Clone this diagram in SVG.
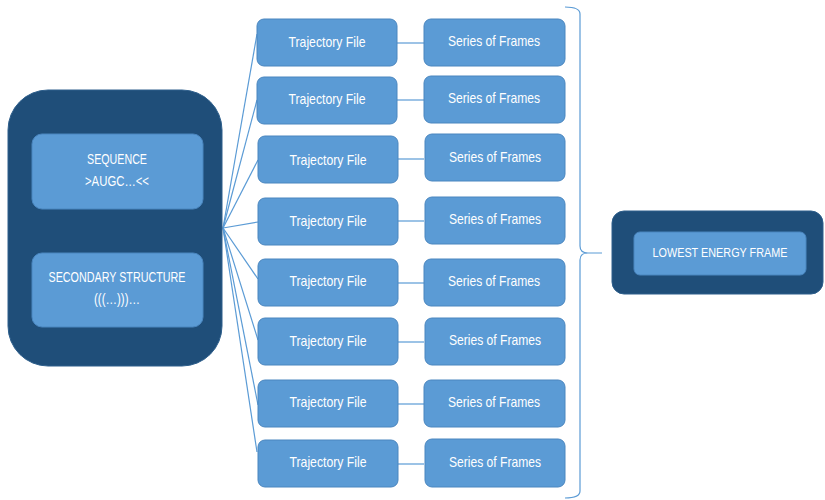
<svg xmlns="http://www.w3.org/2000/svg" width="825" height="500" viewBox="0 0 825 500">
<style>
.outer{fill:#1F4E79;stroke:#2E5F8C;stroke-width:1}
.box{fill:#5B9BD5;stroke:#4A86BF;stroke-width:1}
.t{fill:#FFFFFF;font-family:"Liberation Sans",Arial,sans-serif;font-size:15px;text-anchor:middle;dominant-baseline:central}
.c{stroke:#5B9BD5;stroke-width:1.2;fill:none}
</style>
<rect x="0" y="0" width="825" height="500" fill="#FFFFFF"/>
<g id="connectors">
<line class="c" x1="223" y1="228" x2="257" y2="34"/>
<line class="c" x1="223" y1="228" x2="257" y2="100"/>
<line class="c" x1="223" y1="228" x2="258" y2="160"/>
<line class="c" x1="223" y1="228" x2="258" y2="222"/>
<line class="c" x1="223" y1="228" x2="258" y2="279"/>
<line class="c" x1="223" y1="228" x2="258" y2="340"/>
<line class="c" x1="223" y1="228" x2="258" y2="405"/>
<line class="c" x1="223" y1="228" x2="257" y2="452"/>
<line class="c" x1="397" y1="43" x2="424" y2="43"/>
<line class="c" x1="397" y1="100" x2="424" y2="100"/>
<line class="c" x1="397" y1="159" x2="424" y2="159"/>
<line class="c" x1="397" y1="221" x2="424" y2="221"/>
<line class="c" x1="397" y1="283" x2="424" y2="283"/>
<line class="c" x1="397" y1="342" x2="424" y2="342"/>
<line class="c" x1="397" y1="404" x2="424" y2="404"/>
<line class="c" x1="397" y1="464" x2="424" y2="464"/>
<path class="c" stroke-width="1.6" d="M565 7 Q580 7 580 14 L580 246 Q580 253 588 253 L602 253 M588 253 Q580 253 580 260 L580 491 Q580 498 565 498"/>
</g>
<g id="input">
<rect class="outer" x="8" y="90" width="214" height="276" rx="40" ry="40"/>
</g>
<g id="sequence">
<rect class="box" x="32" y="134" width="171" height="75" rx="10"/>
<text class="t" x="117" y="158" textLength="60" lengthAdjust="spacingAndGlyphs">SEQUENCE</text>
<text class="t" x="117" y="180" textLength="64" lengthAdjust="spacingAndGlyphs">&gt;AUGC…&lt;&lt;</text>
</g>
<g id="secondary">
<rect class="box" x="32" y="253" width="171" height="74" rx="10"/>
<text class="t" x="117" y="276" textLength="137" lengthAdjust="spacingAndGlyphs">SECONDARY STRUCTURE</text>
<text class="t" x="117" y="298" textLength="46" lengthAdjust="spacingAndGlyphs">(((…)))…</text>
</g>
<g id="traj1"><rect class="box" x="257" y="19" width="140" height="47" rx="7"/><text class="t" x="327" y="41" textLength="77" lengthAdjust="spacingAndGlyphs">Trajectory File</text></g>
<g id="traj2"><rect class="box" x="257" y="77" width="140" height="47" rx="7"/><text class="t" x="327" y="98" textLength="77" lengthAdjust="spacingAndGlyphs">Trajectory File</text></g>
<g id="traj3"><rect class="box" x="258" y="136" width="140" height="47" rx="7"/><text class="t" x="328" y="159" textLength="77" lengthAdjust="spacingAndGlyphs">Trajectory File</text></g>
<g id="traj4"><rect class="box" x="258" y="198" width="140" height="47" rx="7"/><text class="t" x="328" y="220" textLength="77" lengthAdjust="spacingAndGlyphs">Trajectory File</text></g>
<g id="traj5"><rect class="box" x="258" y="259" width="140" height="47" rx="7"/><text class="t" x="328" y="280" textLength="77" lengthAdjust="spacingAndGlyphs">Trajectory File</text></g>
<g id="traj6"><rect class="box" x="258" y="318" width="140" height="47" rx="7"/><text class="t" x="328" y="340" textLength="77" lengthAdjust="spacingAndGlyphs">Trajectory File</text></g>
<g id="traj7"><rect class="box" x="258" y="380" width="140" height="47" rx="7"/><text class="t" x="328" y="401" textLength="77" lengthAdjust="spacingAndGlyphs">Trajectory File</text></g>
<g id="traj8"><rect class="box" x="258" y="440" width="140" height="47" rx="7"/><text class="t" x="328" y="461" textLength="77" lengthAdjust="spacingAndGlyphs">Trajectory File</text></g>
<g id="frames1"><rect class="box" x="424" y="19" width="141" height="47" rx="7"/><text class="t" x="494" y="40" textLength="92" lengthAdjust="spacingAndGlyphs">Series of Frames</text></g>
<g id="frames2"><rect class="box" x="424" y="76" width="141" height="47" rx="7"/><text class="t" x="494" y="97" textLength="92" lengthAdjust="spacingAndGlyphs">Series of Frames</text></g>
<g id="frames3"><rect class="box" x="425" y="134" width="140" height="47" rx="7"/><text class="t" x="495" y="156" textLength="92" lengthAdjust="spacingAndGlyphs">Series of Frames</text></g>
<g id="frames4"><rect class="box" x="425" y="197" width="140" height="47" rx="7"/><text class="t" x="495" y="218" textLength="92" lengthAdjust="spacingAndGlyphs">Series of Frames</text></g>
<g id="frames5"><rect class="box" x="424" y="259" width="141" height="47" rx="7"/><text class="t" x="494" y="280" textLength="92" lengthAdjust="spacingAndGlyphs">Series of Frames</text></g>
<g id="frames6"><rect class="box" x="425" y="318" width="140" height="47" rx="7"/><text class="t" x="495" y="339" textLength="92" lengthAdjust="spacingAndGlyphs">Series of Frames</text></g>
<g id="frames7"><rect class="box" x="424" y="380" width="141" height="47" rx="7"/><text class="t" x="494" y="401" textLength="92" lengthAdjust="spacingAndGlyphs">Series of Frames</text></g>
<g id="frames8"><rect class="box" x="425" y="439" width="140" height="48" rx="7"/><text class="t" x="495" y="461" textLength="92" lengthAdjust="spacingAndGlyphs">Series of Frames</text></g>
<g id="lowest">
<rect class="outer" x="612" y="211" width="211" height="83" rx="12"/>
<rect class="box" x="634" y="232" width="172" height="43" rx="6"/>
<text class="t" x="720" y="252" style="font-size:13px" textLength="135" lengthAdjust="spacingAndGlyphs">LOWEST ENERGY FRAME</text>
</g>
</svg>
